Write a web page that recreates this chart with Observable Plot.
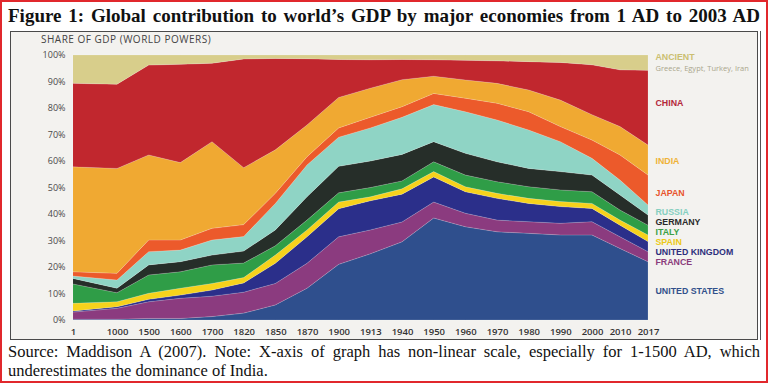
<!DOCTYPE html>
<html>
<head>
<meta charset="utf-8">
<script src="https://cdn.jsdelivr.net/npm/d3@7"></script>
<script src="https://cdn.jsdelivr.net/npm/@observablehq/plot@0.6"></script>
<style>
html,body{margin:0;padding:0;background:#fff;}
#wrap{position:relative;width:768px;height:383px;overflow:hidden;background:#fff;}
#frame{position:absolute;left:0;top:0;width:768px;height:383px;box-sizing:border-box;border:2px solid #e1282c;pointer-events:none;}
#title{position:absolute;left:8px;top:6px;width:752px;font:bold 19px "Liberation Serif","Times New Roman",serif;line-height:20px;color:#111;text-align:justify;text-align-last:justify;white-space:nowrap;}
#panel{position:absolute;left:10px;top:31px;width:748px;height:309px;box-sizing:border-box;border:1.5px solid #4a4a4a;background:#f3f2ef;}
#rline{position:absolute;left:760px;top:31px;width:1px;height:309px;background:#555;}
#sub{position:absolute;left:41px;top:32px;font:10px "Open Sans",sans-serif;color:#444;letter-spacing:0.5px;}
#chart{position:absolute;left:0;top:30px;}
#caption{position:absolute;left:8px;top:342px;width:752px;font:16.5px "Liberation Serif","Times New Roman",serif;line-height:19px;color:#111;text-align:justify;}
</style>
</head>
<body>
<div id="wrap">
  <div id="title">Figure 1: Global contribution to world’s GDP by major economies from 1 AD to 2003 AD</div>
  <div id="panel"></div>
  <div id="rline"></div>
  <div id="sub">SHARE OF GDP (WORLD POWERS)</div>
  <div id="chart"></div>
  <div id="caption">Source: Maddison A (2007). Note: X-axis of graph has non-linear scale, especially for 1-1500 AD, which underestimates the dominance of India.</div>
  <div id="frame"></div>
</div>
<script>
const years = ["1","1000","1500","1600","1700","1820","1850","1870","1900","1913","1940","1950","1960","1970","1980","1990","2000","2010","2017"];
const countries = ["United States","France","United Kingdom","Spain","Italy","Germany","Russia","Japan","India","China","Ancient"];

const unitedStates  = [0.3,0.3,0.6,0.6,1.3,2.6,5.7,12,21,25,29.5,38.5,35.2,33.3,32.7,32.1,32.1,27,22];
const france        = [2.7,4.1,6.3,7.6,7.7,7.9,8.1,9.4,10.4,9,7.5,6,5.1,4.4,4.4,4.4,5,4.4,3.8];
const unitedKingdom = [0.4,0.6,0.9,1.2,2.3,3.5,7.6,10,10.6,11,10.5,9.5,8.1,8.2,6.9,6.3,5,4.4,3.8];
const spain         = [2.9,1.9,2.3,2.6,2.5,2.0,3.1,2.6,2.5,1.5,2,2,1.9,1.9,1.9,1.9,1.9,1.9,2.5];
const italy         = [7.3,3.4,6.9,6.2,7.0,5.5,3.5,3.7,3.5,3.5,3,3.7,4.4,4.4,4.4,4.4,4.4,3.8,3.7];
const germany       = [2.1,1.7,3.8,3.8,3.7,4.5,6.0,8.8,10,10,10,7.6,8.2,7.5,6.9,6.9,6.3,5.7,3.8];
const russia        = [0.9,3.1,5.0,4.4,5.7,5.5,10.0,12,11,12.5,14,14,15.7,15.8,14.5,11.3,6.3,5.6,3.8];
const japan         = [1.6,2.5,4.4,3.8,4.4,4.5,3.8,3.1,3.5,4,4,4.2,5.1,6.3,6.9,5.7,6.9,9.5,11.3];
const india         = [39.6,39.6,32.1,29.2,32.7,21.5,16.4,12,11.5,11,10.2,6.5,6.9,7.5,8.2,10,9.6,10.7,11.3];
const china         = [31.5,31.8,33.9,37.1,29.6,41.0,34.5,25,14.3,10.7,7.6,6.2,7.4,8.5,10.7,14.2,18.8,21.4,28.2];
const ancient       = [10.7,11.0,3.8,3.5,3.1,1.5,1.3,1.4,1.7,1.8,1.7,1.8,2.0,2.2,2.5,2.8,3.7,5.6,5.8];

const series = [unitedStates,france,unitedKingdom,spain,italy,germany,russia,japan,india,china,ancient];
const bandColors = ["#2f4f8d","#8b3b7f","#2b2f8a","#f6d21c","#2f9d47","#262e29","#8fd4c5","#ec5a2b","#f0a932","#c1272e","#d8ce8b"];

// legend labels (text, label position in % units, colour)
const labelText  = ["ANCIENT","CHINA","INDIA","JAPAN","RUSSIA","GERMANY","ITALY","SPAIN","UNITED KINGDOM","FRANCE","UNITED STATES"];
const labelY     = [99.2,81.9,60.1,47.9,41.0,37.2,33.4,29.6,25.8,22.0,11.0];
const labelColor = ["#cbbf72","#b3283a","#efb336","#e8542c","#86cfc0","#2a2a2a","#3a9f45","#ecc915","#2d2f7c","#8a3c7b","#31508b"];
const ancientNote = "Greece, Egypt, Turkey, Iran";

const data = [];
countries.forEach((c, k) => series[k].forEach((v, i) => data.push({i, country: c, share: v})));

const labelMarks = labelText.map((t, k) => Plot.text([t], {
  x: () => years.length - 1, y: () => labelY[k], text: d => d,
  dx: 7, textAnchor: "start", fill: labelColor[k],
  fontFamily: "Liberation Sans, Arial, sans-serif", fontWeight: 700, fontSize: 8.8, letterSpacing: 0.8
}));

const chart = Plot.plot({
  width: 768, height: 310,
  marginTop: 25, marginBottom: 20, marginLeft: 73, marginRight: 120,
  style: {background: "transparent", fontFamily: "Open Sans", color: "#3a3a3a", overflow: "visible"},
  x: {type: "linear", domain: [0, 1, 16, 18], range: [73, 117, 592, 648]},
  y: {domain: [0, 100]},
  color: {domain: countries, range: bandColors},
  marks: [
    Plot.areaY(data, {x: "i", y: "share", z: "country", fill: "country", order: countries,
      stroke: "#ffffff", strokeOpacity: 0.25, strokeWidth: 0.6}),
    Plot.axisX({ticks: d3.range(years.length), tickFormat: i => years[i], tickSize: 0, tickPadding: 8,
      fontSize: 9.5, fontWeight: 600, fill: "#333", label: null}),
    Plot.axisY({ticks: d3.range(0, 101, 10), tickFormat: d => d + "%", tickSize: 0, tickPadding: 8,
      fontSize: 9, fill: "#4a4a4a", label: null}),
    ...labelMarks,
    Plot.text([ancientNote], {x: () => years.length - 1, y: () => 95.1, text: d => d, dx: 7, textAnchor: "start",
      fill: "#aaa68d", fontFamily: "Open Sans", fontSize: 7.5})
  ]
});
document.getElementById("chart").appendChild(chart);
</script>
</body>
</html>
